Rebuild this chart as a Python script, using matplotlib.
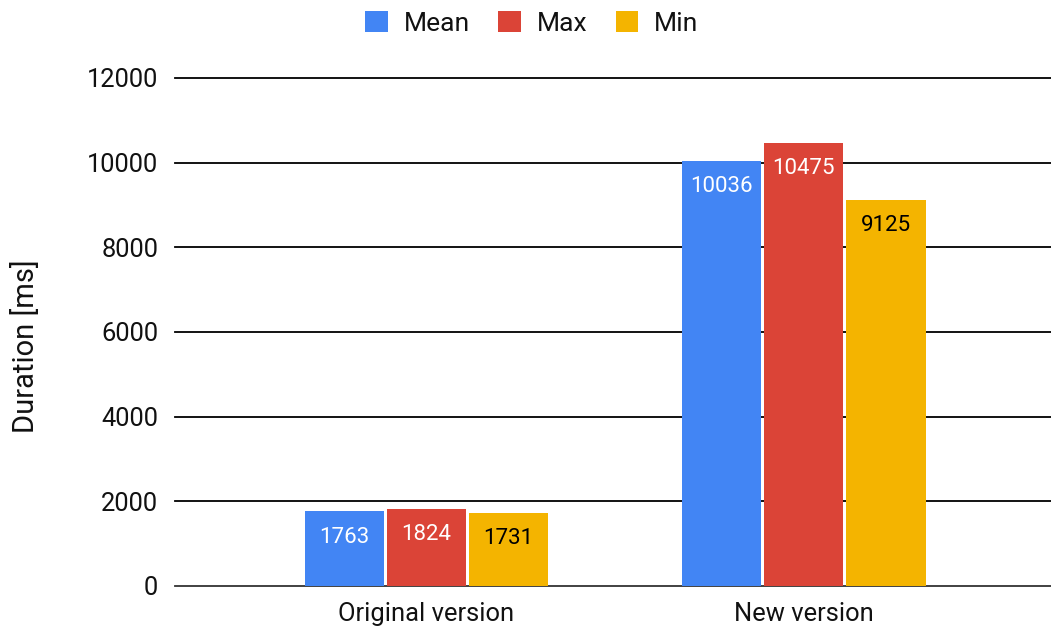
import matplotlib
matplotlib.use("Agg")
import matplotlib.pyplot as plt
import numpy as np

categories = ["Original version", "New version"]
series_names = ["Mean", "Max", "Min"]
mean_vals = [1763, 10036]
max_vals = [1824, 10475]
min_vals = [1731, 9125]
yticks = [0, 2000, 4000, 6000, 8000, 10000, 12000]

colors = ["#4285F4", "#DB4437", "#F4B400"]
label_colors = ["white", "white", "black"]

plt.rcParams['font.family'] = ['Roboto', 'DejaVu Sans']

fig = plt.figure(figsize=(10.51, 6.28), dpi=100)
ax = fig.add_axes([0.1665, 0.0669, 0.8335, 0.8089])

x = np.arange(len(categories))
w = 0.21
step = 0.2175
all_vals = [mean_vals, max_vals, min_vals]
for i, (name, vals) in enumerate(zip(series_names, all_vals)):
    pos = x + (i - 1) * step
    bars = ax.bar(pos, vals, width=w, color=colors[i], label=name, zorder=3)
    for b, v in zip(bars, vals):
        ax.annotate(f"{v}", (b.get_x() + b.get_width() / 2, v),
                    xytext=(0, -18.5), textcoords="offset points",
                    ha="center", va="center", fontsize=16,
                    color=label_colors[i], zorder=4)

ax.set_ylim(0, 12000)
ax.set_xlim(-0.666, 1.655)
ax.set_yticks(yticks)
ax.set_yticklabels([str(t) for t in yticks])
ax.set_xticks(x)
ax.set_xticklabels(categories)
for t in yticks:
    ax.axhline(t, color="#333333" if t == 0 else "black", lw=1.3, zorder=2, clip_on=False)
for s in ax.spines.values():
    s.set_visible(False)
ax.tick_params(axis="y", length=0, pad=12, labelsize=18.4, colors="#111111")
ax.tick_params(axis="x", length=0, pad=11.5, labelsize=18.4, colors="#111111")
ax.set_ylabel("Duration [ms]", fontsize=21, color="#111111")
ax.yaxis.set_label_coords(-0.154, 0.472)

leg = fig.legend(loc="upper center", bbox_to_anchor=(0.506, 1.02), ncol=3,
                 frameon=False, fontsize=19, handlelength=0.85, handleheight=0.85,
                 handletextpad=0.6, columnspacing=1.09)
for t in leg.get_texts():
    t.set_color("#111111")

fig.savefig("out.png", dpi=100)
